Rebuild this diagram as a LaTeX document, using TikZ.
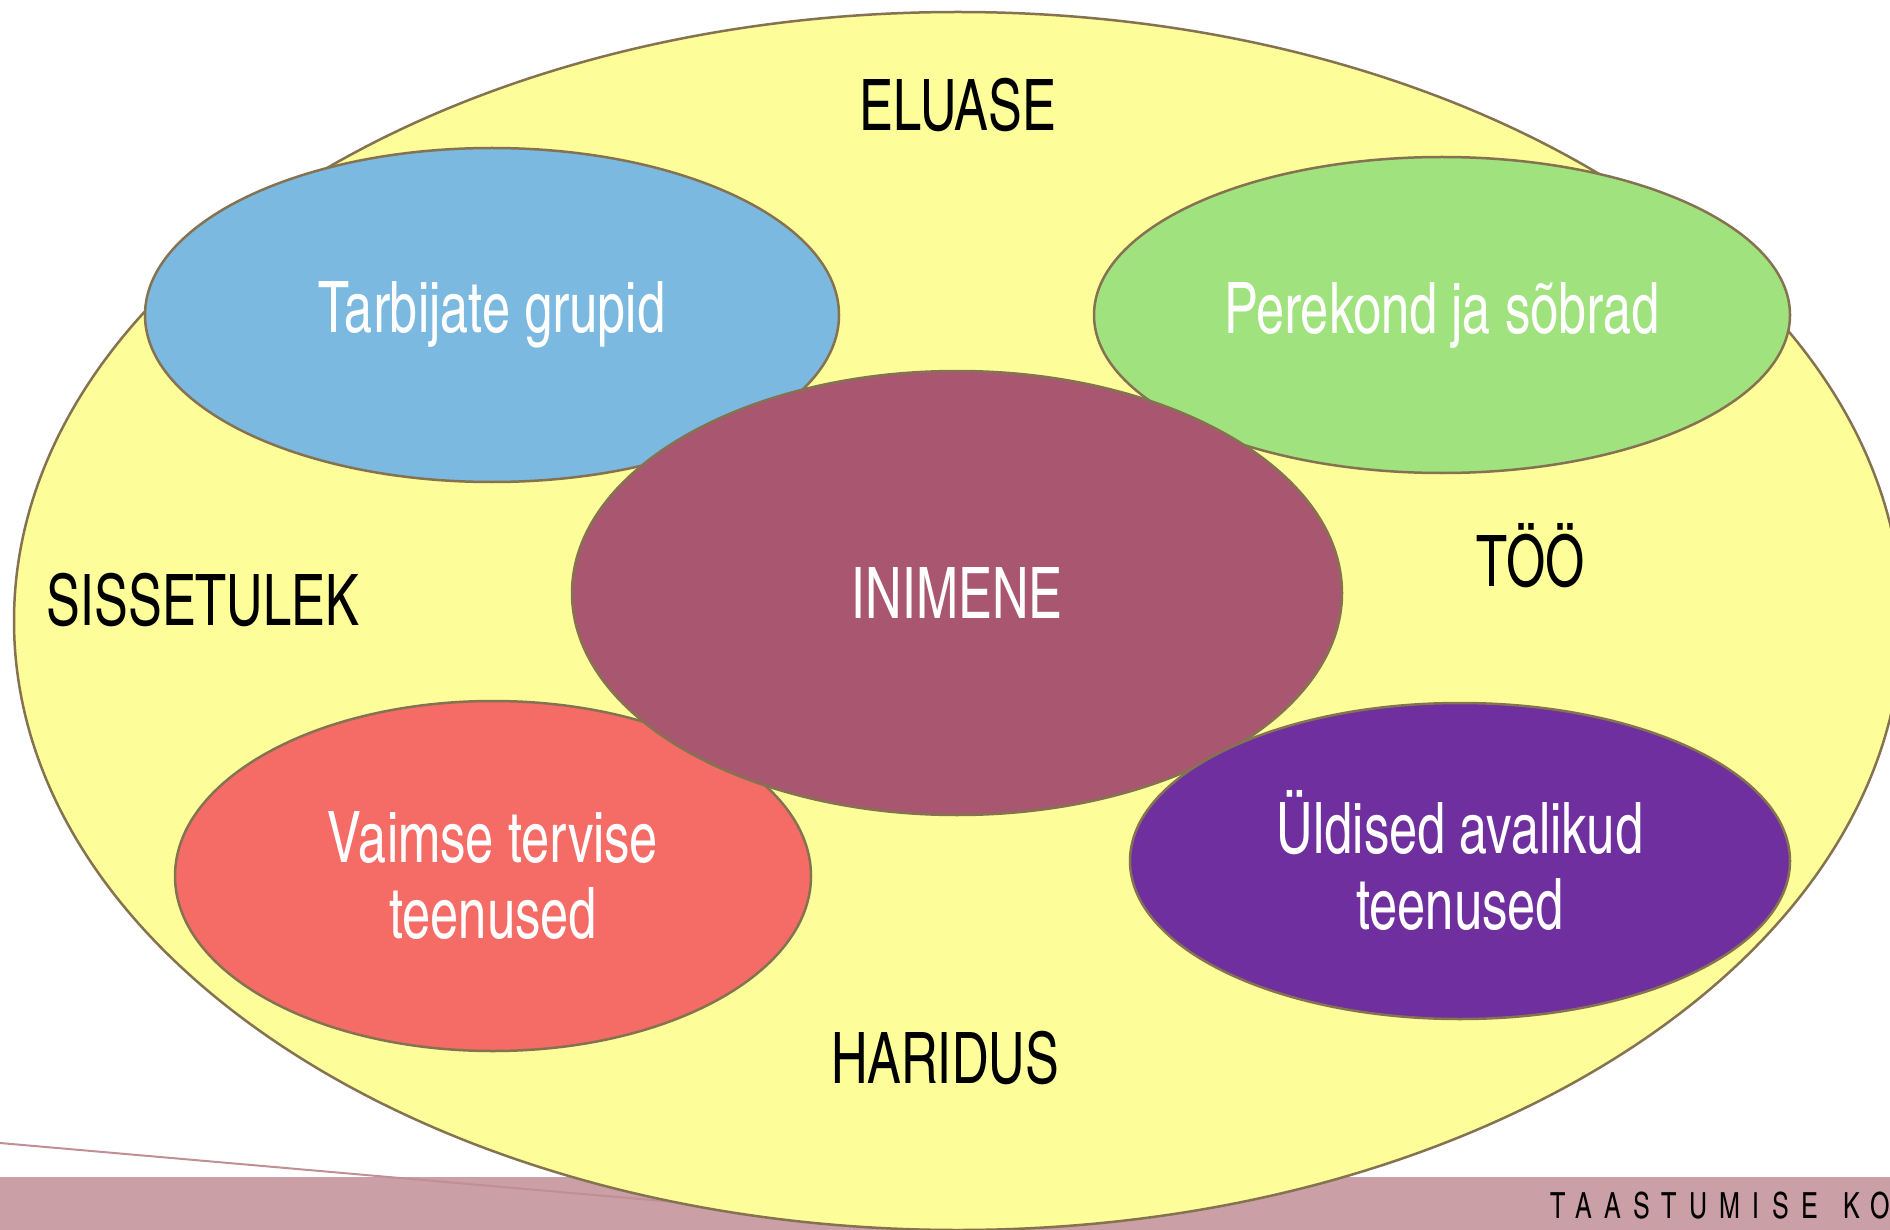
\documentclass[tikz,border=0pt]{standalone}
\usepackage{fontspec}
\IfFontExistsTF{TeX Gyre Heros Cn}
  {\setmainfont[FakeStretch=0.87]{TeX Gyre Heros Cn}}
  {\setmainfont[FakeStretch=0.7]{Liberation Sans}}
\newfontfamily\stripfont[LetterSpace=34, FakeStretch=0.85]{TeX Gyre Heros Cn}
\usepackage{tikz}
\usetikzlibrary{positioning,
                shapes.geometric}            % ellipse nodes

\definecolor{outerfill}{HTML}{FDFD99}
\definecolor{rimcol}{HTML}{857250}
\definecolor{bluefill}{HTML}{7CB9E0}
\definecolor{greenfill}{HTML}{A0E27E}
\definecolor{centerfill}{HTML}{A95770}
\definecolor{redfill}{HTML}{F56C66}
\definecolor{purplefill}{HTML}{6F2F9E}
\definecolor{stripfill}{HTML}{CA9FA5}
\definecolor{stripline}{HTML}{C08F96}

\tikzset{
  blob/.style={ellipse, draw=rimcol, line width=2.5pt, inner sep=0pt,
               text=white, align=center, font=\fontsize{71}{76}\selectfont},
  topic/.style={text=black, inner sep=0pt, font=\fontsize{71}{76}\selectfont}
}

\begin{document}
\begin{tikzpicture}[x=1pt, y=-1pt]
    \useasboundingbox (0,0) rectangle (1890,1230);
    \clip (0,0) rectangle (1890,1230);

    % strip at the bottom
    \fill[stripfill] (0,1177) rectangle (1890,1230);
    \node[anchor=base west, inner sep=0pt, text=black,
          font=\stripfont\fontsize{36}{38}\selectfont] (footer) at (1550,1218) {TAASTUMISE\hspace{6pt} KO};
    \coordinate (linestart) at (0,1143);
    \coordinate (lineend) at (800,1213);
    \draw[stripline, line width=2pt] (linestart) -- (lineend);

    % the big ellipse and what is around the person
    \node[blob, fill=outerfill, minimum width=1888pt, minimum height=1218pt] (world) at (958,621) {};
    \node[topic] (eluase) at (958,105) {ELUASE};
    \node[topic] (too) at (1531,556) {TÖÖ};
    \node[topic] (sissetulek) at (203,600) {SISSETULEK};
    \node[topic] (haridus) at (945,1058) {HARIDUS};

    \node[blob, fill=bluefill, minimum width=694pt, minimum height=334pt] (grupid) at (492,315) {Tarbijate grupid};
    \node[blob, fill=greenfill, minimum width=696pt, minimum height=316pt] (perekond) at (1442,315) {Perekond ja sõbrad};
    \node[blob, fill=redfill, minimum width=636pt, minimum height=350pt] (vaimne) at (493,876) {Vaimse tervise\\teenused};
    \node[blob, fill=centerfill, minimum width=770pt, minimum height=444pt] (inimene) at (957,593) {INIMENE};
    \node[blob, fill=purplefill, minimum width=660pt, minimum height=316pt] (avalikud) at (1460,861) {Üldised avalikud\\teenused};
\end{tikzpicture}
\end{document}
